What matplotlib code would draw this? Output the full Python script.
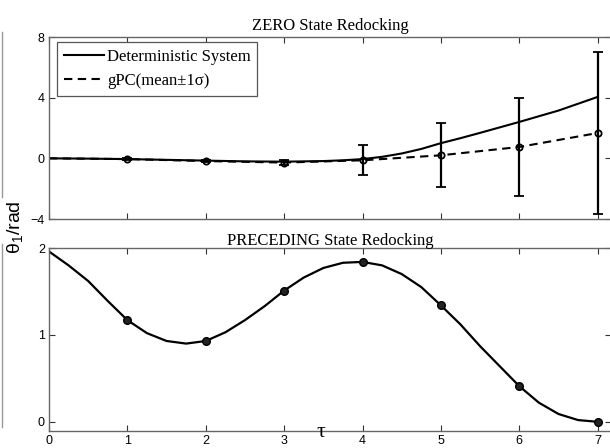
import numpy as np
import matplotlib.pyplot as plt
from matplotlib.lines import Line2D

plt.rcParams['font.family'] = ['Liberation Sans', 'DejaVu Sans']
plt.rcParams['mathtext.fontset'] = 'custom'
plt.rcParams['mathtext.rm'] = 'Liberation Sans'
plt.rcParams['mathtext.it'] = 'Liberation Sans:italic'

# ZERO state redocking (top panel)
tau_det = [0, 0.5, 1, 1.5, 2, 2.5, 3, 3.5, 3.75, 4, 4.25, 4.5, 4.75, 5, 5.25, 5.5, 6, 6.5, 7]
theta_det = [0, -0.02, -0.05, -0.1, -0.15, -0.2, -0.22, -0.18, -0.13, -0.05, 0.1, 0.32, 0.62, 1.0, 1.33, 1.68, 2.4, 3.15, 4.05]
tau_gpc = [0, 1, 2, 3, 4, 5, 6, 7]
gpc_mean = [0, -0.05, -0.18, -0.28, -0.13, 0.2, 0.75, 1.67]
gpc_sigma = [0, 0.05, 0.08, 0.15, 0.98, 2.1, 3.25, 5.37]

# PRECEDING state redocking (bottom panel)
tau_prec = [0, 0.25, 0.5, 0.75, 1, 1.25, 1.5, 1.75, 2, 2.25, 2.5, 2.75, 3, 3.25, 3.5,
            3.75, 4, 4.25, 4.5, 4.75, 5, 5.25, 5.5, 5.75, 6, 6.25, 6.5, 6.75, 7]
theta_prec = [1.96, 1.80, 1.62, 1.39, 1.17, 1.02, 0.93, 0.90, 0.93, 1.03, 1.17, 1.33, 1.51, 1.66, 1.77,
              1.83, 1.84, 1.80, 1.70, 1.55, 1.34, 1.12, 0.87, 0.64, 0.41, 0.22, 0.09, 0.02, 0.0]
tau_pts = [1, 2, 3, 4, 5, 6, 7]
theta_pts = [1.17, 0.93, 1.51, 1.84, 1.34, 0.41, 0.0]

W, H = 610, 448
fig = plt.figure(figsize=(W/100, H/100), dpi=100)
left = 49/W
width = (611-49)/W
ax1 = fig.add_axes([left, 1-219/H, width, 182/H])
ax2 = fig.add_axes([left, 1-430.5/H, width, 182.5/H])

serif = ['Liberation Serif', 'DejaVu Serif']

ax1.plot(tau_det, theta_det, color='black', lw=1.5, label='Deterministic System')
ax1.plot(tau_gpc, gpc_mean, color='black', lw=1.5, ls=(0, (4, 2.6)), label='gPC(mean\u00b11\u03c3)')
ax1.errorbar(tau_gpc[1:], gpc_mean[1:], yerr=gpc_sigma[1:], fmt='o', color='black',
             mfc='none', mec='black', ms=4.5, mew=1.3, elinewidth=1.6, capsize=3.6, capthick=1.6)
ax1.set_xlim(0, 7.17)
ax1.set_ylim(-4, 8)
ax1.set_yticks([-4, 0, 4, 8])
ax1.set_xticks(range(8))
ax1.tick_params(labelbottom=False)
ax1.set_title('ZERO State Redocking', fontsize=12, family=serif, pad=5)
leg = ax1.legend(loc='upper left', bbox_to_anchor=(0.014, 0.973), borderaxespad=0,
                 prop={'family': serif, 'size': 12}, fancybox=False, framealpha=1,
                 handlelength=2.4, handletextpad=0.2, borderpad=0.4, labelspacing=0.5)
leg.get_frame().set_edgecolor('#555555')
leg.get_frame().set_linewidth(0.9)

ax2.plot(tau_prec, theta_prec, color='black', lw=1.6)
ax2.plot(tau_pts, theta_pts, 'o', color='black', ms=5.5, mec='black', mfc='#222222')
ax2.set_xlim(0, 7.17)
ax2.set_ylim(-0.1, 2.0)
ax2.set_yticks([0, 1, 2])
ax2.set_xticks(range(8))
ax2.set_title('PRECEDING State Redocking', fontsize=12, family=serif, pad=2)

for ax in (ax1, ax2):
    ax.tick_params(direction='in', length=4, width=0.8, top=True, right=True,
                   labelsize=9, pad=3, colors='#333333', labelcolor='black')
    for s in ax.spines.values():
        s.set_color('#666666')
        s.set_linewidth(1.0)

fig.text(15/W, 1-227/H, '\u03b8$_1$/rad', rotation=90, fontsize=14, ha='center', va='center')
fig.text(321/W, 1-432/H, '\u03c4', fontsize=16, family=serif, ha='center', va='center')

# faint border on the left edge of the reference image
fig.add_artist(Line2D([2/W, 2/W], [1-32/H, 1-197/H], color='#999999', lw=1))
fig.add_artist(Line2D([2/W, 2/W], [1-244/H, 1-427/H], color='#999999', lw=1))

fig.savefig('out.png', dpi=100)
